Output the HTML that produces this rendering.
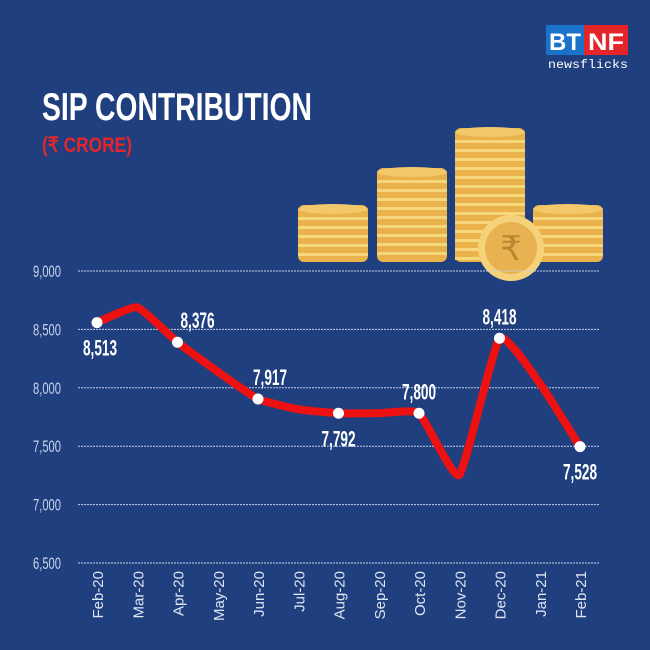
<!DOCTYPE html>
<html><head><meta charset="utf-8"><style>
body{margin:0;background:#1f3f7e;}
svg{display:block}
.cond{font-family:"Liberation Sans Narrow","Liberation Sans",sans-serif;font-weight:bold}
</style></head><body>
<svg width="650" height="650" viewBox="0 0 650 650">
<rect width="650" height="650" fill="#1f3f7e"/>
<g>
<rect x="546" y="25" width="38" height="30" fill="#1a73c9"/>
<rect x="584" y="25" width="44" height="30" fill="#e4262b"/>
<text x="549" y="50" fill="#fff" font-size="24" class="cond" textLength="32" lengthAdjust="spacingAndGlyphs">BT</text>
<text x="588" y="50" fill="#fff" font-size="24" class="cond" textLength="36" lengthAdjust="spacingAndGlyphs">NF</text>
<text x="548" y="68" fill="#fff" font-size="12" font-family="Liberation Mono,monospace" textLength="80" lengthAdjust="spacingAndGlyphs">newsflicks</text>
</g>
<text x="42" y="120" fill="#fff" font-size="39" class="cond" textLength="270" lengthAdjust="spacingAndGlyphs">SIP CONTRIBUTION</text>
<text x="42" y="152" fill="#e4262b" font-size="21" class="cond" textLength="90" lengthAdjust="spacingAndGlyphs">(₹ CRORE)</text>
<g id="coins"></g>
<g id="grid"></g>
<g id="yt"></g>
<g id="xt"></g>
<g id="series"></g>
</svg>
<script>
const categories=["Feb-20","Mar-20","Apr-20","May-20","Jun-20","Jul-20","Aug-20","Sep-20","Oct-20","Nov-20","Dec-20","Jan-21","Feb-21"];
const values=[8558,8689,8390,8138,7904,7816,7782,7782,7782,7253,8424,8039,7496];
const labels=["8,513",null,"8,376",null,"7,917",null,"7,792",null,"7,800",null,"8,418",null,"7,528"];
const labelPos=["below",null,"above",null,"above",null,"below",null,"above",null,"above",null,"below"];
const yTicks=[6500,7000,7500,8000,8500,9000];
const yTickLabels=["6,500","7,000","7,500","8,000","8,500","9,000"];
const NS="http://www.w3.org/2000/svg";
function el(t,a,p){const e=document.createElementNS(NS,t);for(const k in a)e.setAttribute(k,a[k]);p.appendChild(e);return e;}
const y=v=>271+(9000-v)/500*58.4;
const x=i=>97+i*40.25;
const cg=document.getElementById('coins');
[[298,205],[377,168],[455,128],[533,205]].forEach(([cx,top])=>{
  const w=70;
  const b=el('rect',{x:cx,y:top,width:w,height:262-top,rx:6,fill:'#e9b24a'},cg);
  
  
  for(let yy=top+12;yy<258;yy+=9){el('rect',{x:cx,y:yy,width:w,height:3,fill:'#f6d77c'},cg);}
  el('ellipse',{cx:cx+w/2,cy:top+4,rx:w/2,ry:5,fill:'#f3c86a'},cg);
});
el('circle',{cx:511,cy:248,r:33,fill:'#f5d27a'},cg);
el('circle',{cx:511,cy:248,r:26,fill:'#e8b250'},cg);
el('text',{x:511,y:260,'text-anchor':'middle','font-size':34,fill:'#b88730','font-family':'DejaVu Sans,sans-serif'},cg).textContent='₹';
const gg=document.getElementById('grid'),yg=document.getElementById('yt');
yTicks.forEach((t,i)=>{
  const l=el('line',{x1:78,x2:600,y1:y(t),y2:y(t),stroke:'#c8d2e6','stroke-width':1,'stroke-dasharray':'2,1'},gg);
  
  
  const tx=el('text',{x:33,y:y(t)+6,fill:'#c9d3e8','font-size':17,'font-family':'Liberation Sans,sans-serif',textLength:28,lengthAdjust:'spacingAndGlyphs'},yg);
  
  
  tx.textContent=yTickLabels[i];
});
const xg=document.getElementById('xt');
categories.forEach((c,i)=>{
  const t=el('text',{x:0,y:0,transform:`translate(${x(i)+6},571) rotate(-90)`,'text-anchor':'end',fill:'#dfe5f2','font-size':15,'font-family':'Liberation Sans,sans-serif'},xg);
  
  
  t.textContent=c;
});
const pts=values.map((v,i)=>[x(i),y(v)]);
let d=`M${pts[0][0]},${pts[0][1]}`;
for(let i=0;i<pts.length-1;i++){
  const p0=pts[Math.max(0,i-1)],p1=pts[i],p2=pts[i+1],p3=pts[Math.min(pts.length-1,i+2)];
  const k=0.07;
  d+=` C${p1[0]+(p2[0]-p0[0])*k},${p1[1]+(p2[1]-p0[1])*k} ${p2[0]-(p3[0]-p1[0])*k},${p2[1]-(p3[1]-p1[1])*k} ${p2[0]},${p2[1]}`;
}
const sg=document.getElementById('series');
const ln=el('path',{d:d,fill:'none',stroke:'#ee1111','stroke-width':8,'stroke-linejoin':'round','stroke-linecap':'round'},sg);


values.forEach((v,i)=>{
  if(!labels[i])return;
  const c=el('circle',{cx:x(i),cy:y(v),r:5.5,fill:'#fff'},sg);
  
  
  const dx=(i===2)?20:(i===4?12:(i===0?3:0));
  const ty=labelPos[i]==='below'?y(v)+33:y(v)-14;
  const t=el('text',{x:x(i)+dx-17,y:ty,fill:'#fff','font-size':22,class:'cond',textLength:34,lengthAdjust:'spacingAndGlyphs'},sg);
  
  
  t.textContent=labels[i];
});
</script>
</body></html>
